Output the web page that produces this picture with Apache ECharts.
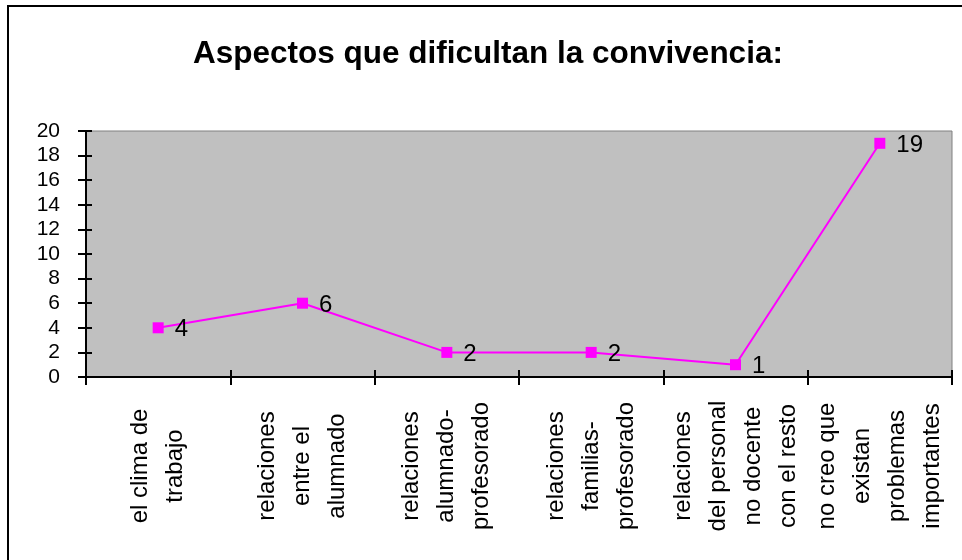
<!DOCTYPE html>
<html>
<head>
<meta charset="utf-8">
<script src="https://cdn.jsdelivr.net/npm/echarts@6/dist/echarts.min.js"></script>
<style>
html,body{margin:0;padding:0;background:#fff;}
#chart{width:962px;height:560px;}
</style>
</head>
<body>
<div id="chart"></div>
<script>
const titleText = 'Aspectos que dificultan la convivencia:';
const categories = [
  'el clima de\ntrabajo',
  'relaciones\nentre el\nalumnado',
  'relaciones\nalumnado-\nprofesorado',
  'relaciones\nfamilias-\nprofesorado',
  'relaciones\ndel personal\nno docente\ncon el resto',
  'no creo que\nexistan\nproblemas\nimportantes'
];
const values = [4, 6, 2, 2, 1, 19];
const yMin = 0, yMax = 20, yStep = 2;

const FONT = '"Liberation Sans", Arial, sans-serif';
const chart = echarts.init(document.getElementById('chart'), null, {renderer: 'canvas'});
chart.setOption({
  backgroundColor: '#ffffff',
  animation: false,
  graphic: [{
    type: 'rect',
    shape: {x: 8, y: 6, width: 1000, height: 600},
    style: {fill: 'none', stroke: '#000', lineWidth: 2},
    z: 0
  }],
  title: {
    text: titleText,
    left: 188,
    top: 33,
    textStyle: {fontFamily: FONT, fontSize: 31.5, fontWeight: 'bold', color: '#000'}
  },
  grid: {
    left: 86, top: 131, right: 10, bottom: 183,
    show: true, backgroundColor: '#C0C0C0', borderColor: '#808080', borderWidth: 1
  },
  xAxis: [{
    type: 'category',
    data: categories,
    position: 'bottom',
    boundaryGap: true,
    axisLine: {lineStyle: {color: '#000', width: 2}},
    axisTick: {show: true, length: 8, lineStyle: {color: '#000', width: 2}},
    axisLabel: {
      interval: 0, rotate: 90, align: 'center', verticalAlign: 'middle',
      margin: 89, fontFamily: FONT, fontSize: 24, lineHeight: 35, color: '#000'
    },
    splitLine: {show: false}
  }, {
    type: 'category',
    data: categories,
    position: 'bottom',
    boundaryGap: true,
    axisLine: {show: false},
    axisTick: {show: true, inside: true, length: 7, lineStyle: {color: '#000', width: 2}},
    axisLabel: {show: false},
    splitLine: {show: false}
  }],
  yAxis: [{
    type: 'value',
    min: yMin, max: yMax, interval: yStep,
    axisLine: {show: true, lineStyle: {color: '#000', width: 2}},
    axisTick: {show: true, length: 8, lineStyle: {color: '#000', width: 2}},
    axisLabel: {margin: 26, fontFamily: FONT, fontSize: 21, color: '#000'},
    splitLine: {show: false}
  }, {
    type: 'value',
    position: 'left',
    min: yMin, max: yMax, interval: yStep,
    axisLine: {show: false},
    axisTick: {show: true, inside: true, length: 6, lineStyle: {color: '#000', width: 2}},
    axisLabel: {show: false},
    splitLine: {show: false}
  }],
  series: [{
    type: 'line',
    data: values,
    xAxisIndex: 0,
    yAxisIndex: 0,
    symbol: 'rect',
    symbolSize: 11,
    lineStyle: {color: '#FF00FF', width: 2},
    itemStyle: {color: '#FF00FF'},
    label: {
      show: true, position: 'right', distance: 11, offset: [0, 2],
      fontFamily: FONT, fontSize: 24, color: '#000'
    },
    z: 5
  }]
});
</script>
</body>
</html>
